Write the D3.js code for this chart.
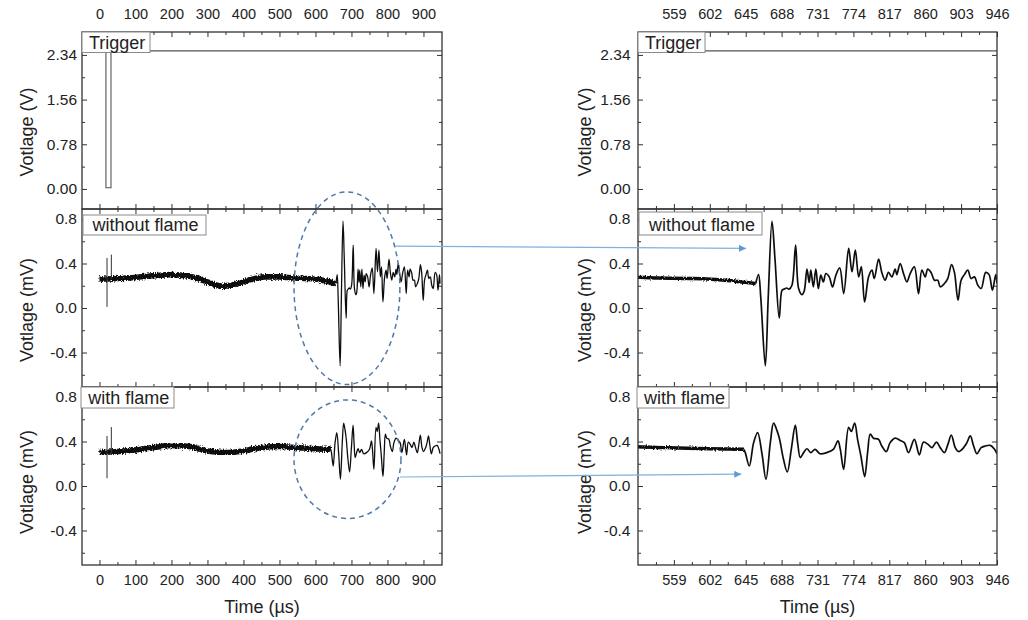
<!DOCTYPE html>
<html>
<head>
<meta charset="utf-8">
<script src="https://cdn.jsdelivr.net/npm/d3@7"></script>
<style>
  body { margin: 0; background: #fff; }
  svg { display: block; font-family: "Liberation Sans", Arial, sans-serif; }
  .tick text { fill: #222; }
  .xaxis .tick text { font-size: 14.5px; }
  .yaxis .tick text { font-size: 15.5px; }
  .tick line { stroke: #333; stroke-width: 1; }
</style>
</head>
<body>
<svg id="chart" width="1028" height="620"></svg>
<script>
// ---- tick labels ----
const leftTimeTicks  = [0, 100, 200, 300, 400, 500, 600, 700, 800, 900];
const leftTimeMinor  = [50, 150, 250, 350, 450, 550, 650, 750, 850];
const rightTimeTicks = [559, 602, 645, 688, 731, 774, 817, 860, 903, 946];
const rightTimeMinor = [537.5, 580.5, 623.5, 666.5, 709.5, 752.5, 795.5, 838.5, 881.5, 924.5];
const trigTicks      = [0, 0.78, 1.56, 2.34];
const trigTickLabels = ["0.00", "0.78", "1.56", "2.34"];
const trigMinor      = [0.39, 1.17, 1.95];
const mvTicks        = [-0.4, 0, 0.4, 0.8];
const mvTickLabels   = ["-0.4", "0.0", "0.4", "0.8"];
const mvMinor        = [-0.6, -0.2, 0.2, 0.6];

// ---- trigger channel (V) ----
const trigTime = [0, 18, 18, 32, 32, 951];
const trigVolt = [2.41, 2.41, 0.02, 0.02, 2.41, 2.41];

// ---- pressure sensor, without flame (mV) ----
// quiet pre-arrival baseline
const quietWithoutT = [0, 50, 100, 150, 200, 250, 300, 340, 380, 420, 460, 500, 540, 580, 620, 645, 657];
const quietWithoutV = [0.26, 0.265, 0.275, 0.29, 0.30, 0.285, 0.235, 0.195, 0.215, 0.255, 0.28, 0.28, 0.27, 0.265, 0.25, 0.23, 0.22];
// trigger pickup spikes: [time, low, high]
const spikesWithout = [[21, 0.01, 0.45], [33, 0.26, 0.48]];
// wave arrival and ringing
const eventWithoutT = [657, 660.4, 663, 668.5, 672, 676.5, 680, 685.2, 688.5, 691, 694, 697, 700.4, 704.8, 708.4, 712.4, 715, 718.4, 721, 723, 726, 729, 732, 735, 738, 741, 745, 749, 753, 757.6, 762.4, 768.3, 772.3, 776.3, 780.3, 783.5, 787.4, 792.2, 796.2, 799, 804.2, 808, 812, 816, 820, 824, 826, 830, 834, 838, 842, 847, 852, 856, 860, 863, 867, 871, 875, 878, 883, 887, 891.6, 895, 899.3, 903, 907, 911, 915, 919, 923, 927, 932.5, 936.5, 940.5, 944.5, 946];
const eventWithoutV = [0.22, 0.30, 0.10, -0.52, 0.10, 0.78, 0.45, -0.09, 0.16, 0.17, 0.18, 0.17, 0.205, 0.566, 0.175, 0.12, 0.15, 0.35, 0.23, 0.34, 0.19, 0.35, 0.175, 0.295, 0.235, 0.31, 0.28, 0.19, 0.295, 0.36, 0.13, 0.536, 0.326, 0.52, 0.28, 0.37, 0.055, 0.28, 0.34, 0.265, 0.44, 0.32, 0.25, 0.32, 0.28, 0.35, 0.30, 0.40, 0.31, 0.235, 0.31, 0.37, 0.13, 0.34, 0.28, 0.35, 0.32, 0.25, 0.25, 0.19, 0.22, 0.265, 0.39, 0.32, 0.07, 0.25, 0.30, 0.34, 0.265, 0.28, 0.205, 0.175, 0.32, 0.30, 0.16, 0.30, 0.22];

// ---- pressure sensor, with flame (mV) ----
const quietWithT = [0, 50, 100, 150, 200, 250, 300, 350, 400, 450, 500, 550, 600, 643];
const quietWithV = [0.30, 0.31, 0.325, 0.345, 0.365, 0.355, 0.315, 0.30, 0.315, 0.345, 0.355, 0.345, 0.335, 0.33];
const spikesWith = [[21, 0.07, 0.45], [33, 0.28, 0.53]];
const eventWithT = [642.5, 644.5, 649.3, 654.5, 659.3, 664.5, 669.3, 674.5, 678.4, 682.4, 685.6, 690, 694.8, 699.6, 704.4, 707.2, 710.4, 714.4, 718.4, 723, 728, 734, 742, 750, 755.5, 758.3, 762.3, 768.3, 771.5, 775.5, 779, 783, 787.5, 791, 794.2, 798, 804, 808, 813.5, 818, 824, 830, 835, 840, 847, 853, 858, 864, 868, 873.5, 878, 883, 887, 891.3, 896, 900, 906, 910, 914, 918, 922, 927, 932, 938, 943, 946];
const eventWithV = [0.33, 0.30, 0.18, 0.39, 0.48, 0.29, 0.06, 0.39, 0.566, 0.50, 0.42, 0.25, 0.126, 0.33, 0.548, 0.39, 0.256, 0.30, 0.335, 0.30, 0.33, 0.29, 0.30, 0.33, 0.406, 0.33, 0.15, 0.527, 0.49, 0.566, 0.42, 0.27, 0.085, 0.30, 0.467, 0.43, 0.42, 0.36, 0.31, 0.39, 0.43, 0.41, 0.39, 0.30, 0.42, 0.28, 0.395, 0.37, 0.345, 0.395, 0.345, 0.30, 0.37, 0.457, 0.345, 0.31, 0.345, 0.39, 0.45, 0.36, 0.29, 0.345, 0.36, 0.365, 0.33, 0.29];

// ---- annotations (in data units of the full-record panels) ----
const circledRegions = [
  { row: "without", t: 687.5, v: 0.178, rt: 147, rv: 0.866 },
  { row: "with",    t: 689,   v: 0.241, rt: 148.6, rv: 0.533 }
];
const zoomArrows = [
  { row: "without", from: [821, 0.556], to: [645.4, 0.536] },
  { row: "with",    from: [834.7, 0.081], to: [639.7, 0.106] }
];

// ---- layout ----
const svg = d3.select("#chart");
const zip = (a, b) => a.map((d, i) => [d, b[i]]);

const cols = [
  { id: "full", x0: 82,  x1: 442, domain: [-48.5, 951.5], ticks: leftTimeTicks,  minor: leftTimeMinor,
    labelPad: 5, quietWidth: 5.6, eventWidth: 1.3, quietGrain: "grainWide", ylabelX: 27 },
  { id: "zoom", x0: 638, x1: 997, domain: [516, 946],     ticks: rightTimeTicks, minor: rightTimeMinor,
    labelPad: 7.5, quietWidth: 3.4, eventWidth: 1.7, quietGrain: "grainMid", ylabelX: 585 }
];
const rows = [
  { id: "trigger", y0: 32,  y1: 209, domain: [-0.35, 2.74], ticks: trigTicks, labels: trigTickLabels, minor: trigMinor,
    ylabel: "Votlage (V)", ylabelY: 132, tag: "Trigger" },
  { id: "without", y0: 209, y1: 387, domain: [-0.71, 0.89], ticks: mvTicks, labels: mvTickLabels, minor: mvMinor,
    ylabel: "Votlage (mV)", ylabelY: 310, tag: "without flame",
    quiet: zip(quietWithoutT, quietWithoutV), event: zip(eventWithoutT, eventWithoutV), spikes: spikesWithout },
  { id: "with",    y0: 387, y1: 565, domain: [-0.71, 0.89], ticks: mvTicks, labels: mvTickLabels, minor: mvMinor,
    ylabel: "Votlage (mV)", ylabelY: 482, tag: "with flame",
    quiet: zip(quietWithT, quietWithV), event: zip(eventWithT, eventWithV), spikes: spikesWith }
];

// tag boxes per column/row: [x, y, w, h, textX, baseline]
const tagBoxes = {
  full: { trigger: [82, 32, 68, 20.5, 89, 49], without: [83, 215, 123, 20, 92.5, 230.5], with: [81, 387, 93, 21, 88.3, 404] },
  zoom: { trigger: [638, 32, 67, 20.5, 645, 49], without: [639, 212, 123, 23, 649, 230.5], with: [637, 387, 92, 21, 644, 404] }
};

const scales = {};
const defs = svg.append("defs");
defs.append("marker")
  .attr("id", "arrowHead").attr("viewBox", "0 0 10 10")
  .attr("refX", 10).attr("refY", 5)
  .attr("markerWidth", 9).attr("markerHeight", 7)
  .attr("markerUnits", "userSpaceOnUse")
  .attr("orient", "auto")
  .append("path").attr("d", "M0,0 L10,5 L0,10 Z").attr("fill", "#5f9ad2");

// rough, grainy edge for the sampled traces (oscilloscope sample scatter)
function grainFilter(id, freq, scale) {
  const f = defs.append("filter").attr("id", id)
    .attr("x", "-2%").attr("y", "-30%").attr("width", "104%").attr("height", "160%");
  f.append("feTurbulence").attr("type", "fractalNoise")
    .attr("baseFrequency", freq).attr("numOctaves", 2).attr("seed", 7).attr("result", "noise");
  f.append("feDisplacementMap").attr("in", "SourceGraphic").attr("in2", "noise")
    .attr("scale", scale).attr("xChannelSelector", "R").attr("yChannelSelector", "G");
}
grainFilter("grainWide", "0.9 0.6", 5);
grainFilter("grainMid", "0.9 0.6", 3);
grainFilter("grainFine", "0.9 0.6", 1.3);

function fixTicks(g) {
  g.select(".domain").remove();
}

cols.forEach(col => {
  const x = d3.scaleLinear().domain(col.domain).range([col.x0, col.x1]);
  rows.forEach((row, ri) => {
    const y = d3.scaleLinear().domain(row.domain).range([row.y1, row.y0]);
    scales[col.id + "-" + row.id] = { x, y };
    const g = svg.append("g");
    const clipId = "clip-" + col.id + "-" + row.id;
    defs.append("clipPath").attr("id", clipId)
      .append("rect").attr("x", col.x0).attr("y", row.y0)
      .attr("width", col.x1 - col.x0).attr("height", row.y1 - row.y0);
    const plot = g.append("g").attr("clip-path", `url(#${clipId})`);

    // traces
    if (row.id === "trigger") {
      plot.append("path")
        .datum(zip(trigTime, trigVolt))
        .attr("fill", "none").attr("stroke", "#555").attr("stroke-width", 1.1)
        .attr("d", d3.line().x(d => x(d[0])).y(d => y(d[1])));
    } else {
      const traces = plot.append("g");
      traces.append("path")
        .datum(row.quiet)
        .attr("fill", "none").attr("stroke", "#111")
        .attr("stroke-width", col.quietWidth).attr("stroke-linejoin", "round")
        .attr("filter", `url(#${col.quietGrain})`)
        .attr("d", d3.line().curve(d3.curveMonotoneX).x(d => x(d[0])).y(d => y(d[1])));
      traces.selectAll(".spike").data(row.spikes).join("line")
        .attr("x1", d => x(d[0])).attr("x2", d => x(d[0]))
        .attr("y1", d => y(d[1])).attr("y2", d => y(d[2]))
        .attr("stroke", "#333").attr("stroke-width", 1);
      traces.append("path")
        .datum(row.event)
        .attr("fill", "none").attr("stroke", "#111")
        .attr("stroke-width", col.eventWidth).attr("stroke-linejoin", "round")
        .attr("filter", "url(#grainFine)")
        .attr("d", d3.line().curve(d3.curveCatmullRom.alpha(0.5)).x(d => x(d[0])).y(d => y(d[1])));
    }

    // ticks on all four sides, pointing inward
    const isFirst = ri === 0, isLast = ri === rows.length - 1;
    g.append("g").attr("class", "xaxis").attr("transform", `translate(0,${row.y1})`)
      .call(d3.axisBottom(x).tickValues(col.ticks).tickSize(-5).tickPadding(10)
        .tickFormat(isLast ? (d => String(d)) : () => ""))
      .call(fixTicks);
    g.append("g").attr("transform", `translate(0,${row.y1})`)
      .call(d3.axisBottom(x).tickValues(col.minor).tickSize(-3).tickFormat(() => ""))
      .call(fixTicks);
    g.append("g").attr("class", "xaxis").attr("transform", `translate(0,${row.y0})`)
      .call(d3.axisTop(x).tickValues(col.ticks).tickSize(-5).tickPadding(13)
        .tickFormat(isFirst ? (d => String(d)) : () => ""))
      .call(fixTicks);
    g.append("g").attr("transform", `translate(0,${row.y0})`)
      .call(d3.axisTop(x).tickValues(col.minor).tickSize(-3).tickFormat(() => ""))
      .call(fixTicks);
    g.append("g").attr("class", "yaxis").attr("transform", `translate(${col.x0},0)`)
      .call(d3.axisLeft(y).tickValues(row.ticks).tickSize(-5).tickPadding(col.labelPad)
        .tickFormat((d, i) => row.labels[i]))
      .call(fixTicks);
    g.append("g").attr("transform", `translate(${col.x0},0)`)
      .call(d3.axisLeft(y).tickValues(row.minor).tickSize(-3).tickFormat(() => ""))
      .call(fixTicks);
    g.append("g").attr("transform", `translate(${col.x1},0)`)
      .call(d3.axisRight(y).tickValues(row.ticks).tickSize(-5).tickFormat(() => ""))
      .call(fixTicks);
    g.append("g").attr("transform", `translate(${col.x1},0)`)
      .call(d3.axisRight(y).tickValues(row.minor).tickSize(-3).tickFormat(() => ""))
      .call(fixTicks);

    // frame
    g.append("rect")
      .attr("x", col.x0).attr("y", row.y0)
      .attr("width", col.x1 - col.x0).attr("height", row.y1 - row.y0)
      .attr("fill", "none").attr("stroke", "#333").attr("stroke-width", 1.3);

    // panel tag
    const b = tagBoxes[col.id][row.id];
    g.append("rect").attr("x", b[0]).attr("y", b[1]).attr("width", b[2]).attr("height", b[3])
      .attr("fill", "#fff").attr("stroke", "#8a8a8a").attr("stroke-width", 1);
    g.append("text").attr("x", b[4]).attr("y", b[5])
      .attr("font-size", 18).attr("fill", "#222").text(row.tag);

    // y-axis title
    svg.append("text")
      .attr("transform", `translate(${col.ylabelX},${row.ylabelY}) rotate(-90)`)
      .attr("text-anchor", "middle").attr("dominant-baseline", "central")
      .attr("font-size", 18).attr("fill", "#222").text(row.ylabel);
  });

  // x-axis title
  svg.append("text")
    .attr("x", (col.x0 + col.x1) / 2).attr("y", 607)
    .attr("text-anchor", "middle").attr("dominant-baseline", "central")
    .attr("font-size", 18).attr("fill", "#222").text("Time (µs)");
});

// dashed outlines around the wave arrival
const ann = svg.append("g");
circledRegions.forEach(c => {
  const s = scales["full-" + c.row];
  ann.append("ellipse")
    .attr("cx", s.x(c.t)).attr("cy", s.y(c.v))
    .attr("rx", s.x(c.t + c.rt) - s.x(c.t))
    .attr("ry", s.y(c.v - c.rv) - s.y(c.v))
    .attr("fill", "none").attr("stroke", "#4f79a6")
    .attr("stroke-width", 1.5).attr("stroke-dasharray", "5,4");
});

// arrows linking the full record to the zoomed view
zoomArrows.forEach(a => {
  const s0 = scales["full-" + a.row], s1 = scales["zoom-" + a.row];
  ann.append("line")
    .attr("x1", s0.x(a.from[0])).attr("y1", s0.y(a.from[1]))
    .attr("x2", s1.x(a.to[0])).attr("y2", s1.y(a.to[1]))
    .attr("stroke", "#7fb0de").attr("stroke-width", 1.2)
    .attr("marker-end", "url(#arrowHead)");
});
</script>
</body>
</html>
